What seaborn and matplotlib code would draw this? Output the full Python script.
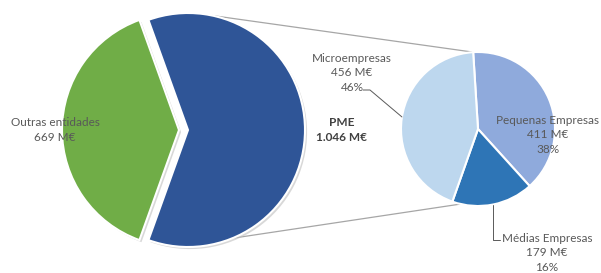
import numpy as np
import matplotlib
matplotlib.use("Agg")
import matplotlib.pyplot as plt
import matplotlib.patheffects as pe
import seaborn as sns

# ---- data ----
main_labels = ["Outras entidades", "PME"]
main_values = [669, 1046]
main_texts = ["669 M€", "1.046 M€"]

sub_labels = ["Pequenas Empresas", "Médias Empresas", "Microempresas"]
sub_values = [411, 179, 456]
sub_texts = ["411 M€", "179 M€", "456 M€"]
sub_pcts = ["38%", "16%", "46%"]

# ---- style ----
sns.set_theme(style="white")
plt.rcParams["font.family"] = ["Lato", "DejaVu Sans"]
main_colors = ["#70AD47", "#2F5597"]
sub_colors = ["#8FAADC", "#2E75B6", "#BDD7EE"]
txt = "#595959"
line_c = "#A6A6A6"

fig = plt.figure(figsize=(6.01, 2.73), dpi=100)
ax = fig.add_axes([0, 0, 1, 1])

c1, r1 = (188, 143), 117
c2, r2 = (478, 144), 77
shadow = [pe.SimplePatchShadow(offset=(1.5, -1.5), shadow_rgbFace="#BFBFBF", alpha=0.6),
          pe.Normal()]

share = main_values[0] / sum(main_values) * 360
start1 = 180 - share / 2
w1, _ = ax.pie(main_values, colors=main_colors, startangle=start1, center=c1, radius=r1,
               explode=[9, 0], wedgeprops=dict(edgecolor="white", linewidth=1.5),
               frame=True)
w2, _ = ax.pie(sub_values, colors=sub_colors, startangle=93.6, counterclock=False,
               center=c2, radius=r2, wedgeprops=dict(edgecolor="white", linewidth=1.5),
               frame=True)
for w in w1:
    w.set_path_effects(shadow)
ax.set_xlim(0, 601)
ax.set_ylim(0, 273)
ax.set_aspect("equal")
ax.axis("off")

def pt(c, r, a):
    return c[0] + r * np.cos(np.radians(a)), c[1] + r * np.sin(np.radians(a))

# connector lines
for a1, a2 in [(78, 93.6), (-67.7, -103)]:
    p1, p2 = pt(c1, r1, a1), pt(c2, r2, a2)
    ax.plot([p1[0], p2[0]], [p1[1], p2[1]], color=line_c, lw=0.9, zorder=0)

fs = 8.5
ax.text(55, 143, f"{main_labels[0]}\n{main_texts[0]}", ha="center", va="center",
        fontsize=fs, color=txt, linespacing=1.35)
ax.text(342, 143, f"{main_labels[1]}\n{main_texts[1]}", ha="center", va="center",
        fontsize=fs, color="#404040", fontweight="bold", linespacing=1.35)

ax.text(352, 200, f"{sub_labels[2]}\n{sub_texts[2]}\n{sub_pcts[2]}", ha="center",
        va="center", fontsize=fs, color=txt, linespacing=1.35)
ax.text(548, 138, f"{sub_labels[0]}\n{sub_texts[0]}\n{sub_pcts[0]}", ha="center",
        va="center", fontsize=fs, color=txt, linespacing=1.35)
ax.text(547, 20, f"{sub_labels[1]}\n{sub_texts[1]}\n{sub_pcts[1]}", ha="center",
        va="center", fontsize=fs, color=txt, linespacing=1.35)

# leader lines
pm = pt(c2, r2, 171)
ax.plot([363, 370, pm[0]], [183, 183, pm[1]], color=txt, lw=0.7)
pd = pt(c2, r2, -79)
ax.plot([pd[0], pd[0], 500], [pd[1], 33, 33], color=txt, lw=0.7)

fig.savefig("out.png", dpi=100)
